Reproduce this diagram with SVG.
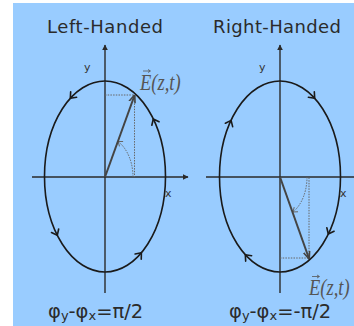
<svg xmlns="http://www.w3.org/2000/svg" width="354" height="326" viewBox="0 0 354 326">
<style>
.axis{stroke:#2a2a2a;stroke-width:1.4;fill:none}
.ell{stroke:#1a1a1a;stroke-width:1.6;fill:none}
.vec{stroke:#444;stroke-width:2;fill:none}
.dot{stroke:#666;stroke-width:1;stroke-dasharray:1.5 1.2;fill:none}
.chev{stroke:#1a1a1a;stroke-width:1.6;fill:none;stroke-linecap:round;stroke-linejoin:round}
.chevs{stroke:#666;stroke-width:1;fill:none}
.title{font-family:"DejaVu Sans",sans-serif;font-size:18px;fill:#2b2b2b}
.lab{font-family:"DejaVu Sans",sans-serif;font-size:11px;fill:#333}
.el{font-family:"Liberation Serif",serif;font-style:italic;font-size:18.5px;fill:#555}
.form{font-family:"DejaVu Sans",sans-serif;font-size:19.5px;fill:#2b2b2b}
</style>
<defs>
<path id="chev" d="M-5,-4 L0,0 L-5,4"/>
<path id="chevS" d="M-4,-3 L0,0 L-4,3"/>
<marker id="tip" viewBox="0 0 10 10" refX="9" refY="5" markerWidth="6" markerHeight="6" orient="auto" markerUnits="userSpaceOnUse">
<path d="M0,0 L10,5 L0,10 z" fill="#2a2a2a"/>
</marker>
<marker id="vtip" viewBox="0 0 10 10" refX="9" refY="5" markerWidth="8" markerHeight="8" orient="auto" markerUnits="userSpaceOnUse">
<path d="M0,1 L10,5 L0,9" fill="none" stroke="#444" stroke-width="2"/>
</marker>
</defs>
<rect x="13" y="3" width="341" height="323" fill="#99CCFF"/>

<g id="left-diagram">
<text class="title" x="105" y="33" text-anchor="middle" textLength="116" lengthAdjust="spacing">Left-Handed</text>
<g id="left-axes">
<line class="axis" x1="32" y1="177" x2="188" y2="177" marker-end="url(#tip)"/>
<line class="axis" x1="105" y1="293" x2="105" y2="45" marker-end="url(#tip)"/>
<text class="lab" x="84" y="71">y</text>
<text class="lab" x="165" y="197" font-size="10">x</text>
</g>
<ellipse class="ell" cx="105" cy="176.5" rx="60.5" ry="95.5"/>
<g class="chev">
<use href="#chev" transform="translate(70.3,98.3) rotate(132)"/>
<use href="#chev" transform="translate(153.3,119) rotate(-115.5)"/>
<use href="#chev" transform="translate(57.3,235.3) rotate(63.6)"/>
<use href="#chev" transform="translate(141.4,252.8) rotate(-50)"/>
</g>
<path class="dot" d="M105,95 L134.5,95 L134.5,177"/>
<path class="dot" d="M133,177 A28,40 0 0 0 118.1,141.6"/>
<use href="#chevS" class="chevs" transform="translate(118.1,141.6) rotate(-143)"/>
<line class="vec" x1="105" y1="177" x2="134.5" y2="95.5" marker-end="url(#vtip)"/>
<text class="el" transform="translate(140,90) scale(1,1.25)" x="0" y="0">E(z,t)</text>
<line x1="143" y1="71" x2="150" y2="71" stroke="#555" stroke-width="0.8"/>
<path d="M148,69.5 L150.5,71 L148,72.5" fill="none" stroke="#555" stroke-width="0.8"/>
<text class="form" x="48" y="318">φ<tspan font-size="13" dy="2">y</tspan><tspan dy="-2">-φ</tspan><tspan font-size="13" dy="2">x</tspan><tspan dy="-2">=π/2</tspan></text>
</g>

<g id="right-diagram">
<text class="title" x="277" y="33" text-anchor="middle" textLength="128" lengthAdjust="spacing">Right-Handed</text>
<g id="right-axes">
<line class="axis" x1="206" y1="177" x2="354" y2="177"/>
<line class="axis" x1="280" y1="293" x2="280" y2="45" marker-end="url(#tip)"/>
<text class="lab" x="259" y="71">y</text>
<text class="lab" x="340" y="197" font-size="10">x</text>
</g>
<ellipse class="ell" cx="280" cy="176.5" rx="60.5" ry="95.5"/>
<g class="chev">
<use href="#chev" transform="translate(231.1,120.4) rotate(-65.3)"/>
<use href="#chev" transform="translate(314.7,98.3) rotate(47.9)"/>
<use href="#chev" transform="translate(328.3,234) rotate(115.5)"/>
<use href="#chev" transform="translate(245.3,254.7) rotate(-132.1)"/>
</g>
<path class="dot" d="M280,258 L309,258 L309,177"/>
<path class="dot" d="M307,177 A27,40 0 0 1 293,212"/>
<use href="#chevS" class="chevs" transform="translate(293,212) rotate(141)"/>
<line class="vec" x1="280" y1="177" x2="309" y2="258.5" marker-end="url(#vtip)"/>
<text class="el" transform="translate(309,294.5) scale(1,1.2)" x="0" y="0">E(z,t)</text>
<line x1="312" y1="276.5" x2="319" y2="276.5" stroke="#555" stroke-width="0.8"/>
<path d="M317,275 L319.5,276.5 L317,278" fill="none" stroke="#555" stroke-width="0.8"/>
<text class="form" x="229" y="318">φ<tspan font-size="13" dy="2">y</tspan><tspan dy="-2">-φ</tspan><tspan font-size="13" dy="2">x</tspan><tspan dy="-2">=-π/2</tspan></text>
</g>
</svg>
